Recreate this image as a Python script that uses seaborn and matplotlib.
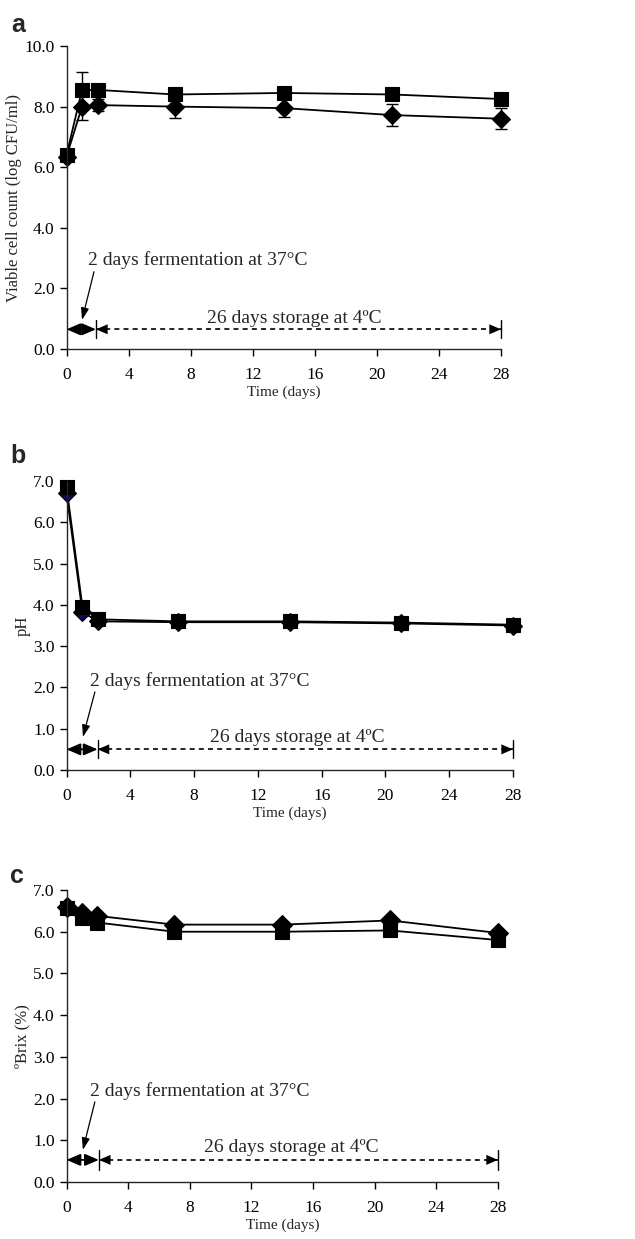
import matplotlib
matplotlib.use("Agg")
import matplotlib.pyplot as plt
import seaborn as sns
import numpy as np

# ---------------- data ----------------
days = [0, 1, 2, 7, 14, 21, 28]

# panel a: viable cell count (log CFU/ml)
count_square = [6.40, 8.55, 8.55, 8.40, 8.45, 8.40, 8.25]
count_square_err = [0.05, 0.60, 0.05, 0.05, 0.05, 0.15, 0.10]
count_diamond = [6.35, 8.00, 8.05, 8.00, 7.95, 7.72, 7.60]
count_diamond_err = [0.05, 0.45, 0.20, 0.38, 0.30, 0.36, 0.35]

# panel b: pH
ph_square = [6.85, 3.95, 3.65, 3.60, 3.60, 3.57, 3.52]
ph_diamond = [6.70, 3.82, 3.60, 3.58, 3.58, 3.55, 3.50]

# panel c: Brix
brix_diamond = [6.60, 6.45, 6.38, 6.17, 6.17, 6.27, 5.97]
brix_square = [6.58, 6.33, 6.22, 6.00, 6.00, 6.03, 5.80]

x_ticks = [0, 4, 8, 12, 16, 20, 24, 28]
ferm_text = "2 days fermentation at 37°C"
stor_text = "26 days storage at 4ºC"

# ---------------- style ----------------
sns.set_theme(style="ticks")
plt.rcParams["font.family"] = ["Liberation Serif", "DejaVu Serif"]
plt.rcParams["axes.linewidth"] = 1.0
plt.rcParams["xtick.major.size"] = 5
plt.rcParams["ytick.major.size"] = 5
plt.rcParams["xtick.direction"] = "out"
plt.rcParams["ytick.direction"] = "out"

fig = plt.figure(figsize=(6.35, 12.39), dpi=100)

W, H = 635.0, 1239.0
def axes_px(x0, x1, ytop, ybot):
    return fig.add_axes([x0 / W, 1 - ybot / H, (x1 - x0) / W, (ybot - ytop) / H])

ax_a = axes_px(66.5, 501, 46, 349)
ax_b = axes_px(66.5, 513, 481, 770)
ax_c = axes_px(66.5, 498, 890, 1182)


def series(ax, y, marker, ms, face="black"):
    sns.lineplot(x=days, y=y, ax=ax, color="black", linewidth=1.3,
                 marker=marker, markersize=ms, markerfacecolor=face,
                 markeredgecolor="black", markeredgewidth=0.8)


def style_axes(ax, ymax, ystep, ylabel, letter, letter_xy):
    ax.set_xlim(0, 28)
    ax.set_ylim(0, ymax)
    ax.set_xticks(x_ticks)
    ax.set_xticklabels([str(t) for t in x_ticks])
    yt = np.arange(0, ymax + 0.001, ystep)
    ax.set_yticks(yt)
    ax.set_yticklabels([f"{v:.1f}" for v in yt])
    ax.tick_params(axis="both", labelsize=12.5, width=1.0, colors="black")
    ax.tick_params(axis="x", pad=8)
    ax.set_xlabel("Time (days)", fontsize=11, labelpad=2)
    ax.set_ylabel(ylabel, fontsize=12, labelpad=2)
    sns.despine(ax=ax)
    for l in ax.lines:
        l.set_clip_on(False)
    fig.text(letter_xy[0] / W, 1 - letter_xy[1] / H, letter, fontsize=18,
             fontweight="bold", family="Liberation Sans", ha="left", va="baseline")


def annotate_periods(ax, yline, vhalf, ferm_xy, arrow_from, arrow_to, stor_xy, split):
    # solid double arrow over fermentation
    ax.annotate("", xy=(0, yline), xytext=(split, yline),
                arrowprops=dict(arrowstyle="<|-|>,head_length=0.7,head_width=0.3",
                                color="black", lw=1.3, shrinkA=0, shrinkB=0))
    # dashed storage line
    ax.plot([split, 28], [yline, yline], color="black", lw=1.2,
            linestyle=(0, (3, 2.5)), clip_on=False)
    ax.annotate("", xy=(split, yline), xytext=(split + 1.2, yline),
                arrowprops=dict(arrowstyle="-|>,head_length=0.7,head_width=0.3",
                                color="black", lw=0, shrinkA=0, shrinkB=0))
    ax.annotate("", xy=(28, yline), xytext=(26.8, yline),
                arrowprops=dict(arrowstyle="-|>,head_length=0.7,head_width=0.3",
                                color="black", lw=0, shrinkA=0, shrinkB=0),
                annotation_clip=False)
    for xv in (split, 28):
        ax.plot([xv, xv], [yline - vhalf, yline + vhalf], color="black",
                lw=1.0, clip_on=False)
    ax.text(ferm_xy[0], ferm_xy[1], ferm_text, fontsize=14, ha="left", va="center")
    ax.annotate("", xy=arrow_to, xytext=arrow_from,
                arrowprops=dict(arrowstyle="-|>,head_length=0.6,head_width=0.2",
                                color="black", lw=0.9, shrinkA=0, shrinkB=0))
    ax.text(stor_xy[0], stor_xy[1], stor_text, fontsize=14, ha="center", va="center")


# panel a
series(ax_a, count_diamond, "D", 9.5)
series(ax_a, count_square, "s", 10.5)
ax_a.errorbar(days, count_diamond, yerr=count_diamond_err, fmt="none",
              ecolor="black", elinewidth=1.0, capsize=4, capthick=1.0, clip_on=False)
ax_a.errorbar(days, count_square, yerr=count_square_err, fmt="none",
              ecolor="black", elinewidth=1.0, capsize=4, capthick=1.0, clip_on=False)
style_axes(ax_a, 10.0, 2.0, "Viable cell count (log CFU/ml)", "a", (11, 32))
annotate_periods(ax_a, 0.65, 0.3, (1.4, 2.92), (1.77, 2.55), (1.0, 0.96),
                 (14.7, 1.0), 1.9)

# panel b
series(ax_b, ph_diamond, "D", 9.5, face="#0a0a60")
series(ax_b, ph_square, "s", 10.5)
style_axes(ax_b, 7.0, 1.0, "pH", "b", (10, 463))
annotate_periods(ax_b, 0.5, 0.22, (1.45, 2.15), (1.78, 1.89), (1.03, 0.8),
                 (14.5, 0.78), 1.95)

# panel c
series(ax_c, brix_square, "s", 10.5)
series(ax_c, brix_diamond, "D", 10)
style_axes(ax_c, 7.0, 1.0, "ºBrix (%)", "c", (10, 883))
annotate_periods(ax_c, 0.53, 0.24, (1.5, 2.17), (1.84, 1.92), (1.06, 0.77),
                 (14.6, 0.82), 2.1)

fig.savefig("out.png", dpi=100)
